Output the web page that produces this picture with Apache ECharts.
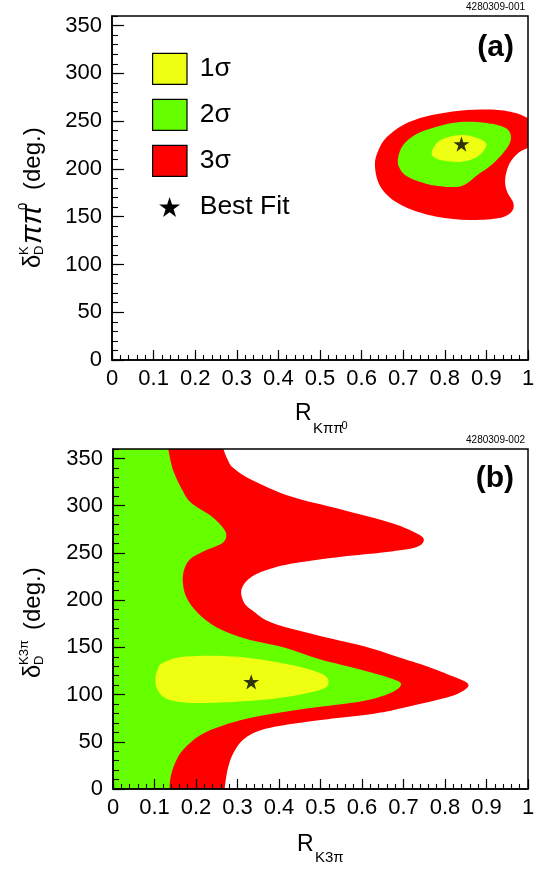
<!DOCTYPE html>
<html>
<head>
<meta charset="utf-8">
<script src="https://cdn.jsdelivr.net/npm/echarts@6/dist/echarts.min.js"></script>
<style>
  html, body { margin: 0; padding: 0; background: #fff; }
  #chart { width: 536px; height: 869px; }
</style>
</head>
<body>
<div id="chart"></div>
<script>
// ---- axis ranges ----
const rRange = [0, 1];
const deltaRange = [0, 360];
const rMajorStep = 0.1, rMinorStep = 0.02;
const deltaMajorStep = 50, deltaMinorStep = 10;

// ---- (a) K pi pi0 : contour boundaries, [R, delta(deg)] ----
const kpipi0_3sigma = [
  [1.0, 253], [0.97, 258.5], [0.92, 262], [0.84, 261], [0.757, 255], [0.70, 246],
  [0.66, 233], [0.64, 219], [0.632, 205], [0.64, 186], [0.665, 171], [0.71, 159],
  [0.78, 150], [0.86, 146.5], [0.93, 148.5], [0.96, 155], [0.965, 164], [0.95, 176],
  [0.945, 189], [0.955, 205], [0.975, 216], [1.0, 222]
];
const kpipi0_2sigma = [
  [0.688, 212], [0.70, 225], [0.73, 236], [0.78, 244], [0.837, 249], [0.90, 248],
  [0.945, 243], [0.959, 234], [0.95, 222], [0.915, 205], [0.88, 194], [0.85, 184],
  [0.82, 181], [0.76, 184], [0.71, 192], [0.69, 202]
];
const kpipi0_1sigma = [
  [0.769, 218], [0.789, 230], [0.838, 235.5], [0.88, 232], [0.90, 225], [0.879, 213],
  [0.84, 207.5], [0.80, 208.5], [0.775, 212]
];
const kpipi0_bestFit = [0.84, 226];

// ---- (b) K3pi : contour boundaries, [R, delta(deg)] ----
const k3pi_3sigma = [
  [0, 360], [0.266, 360], [0.275, 350], [0.29, 340], [0.336, 327], [0.427, 310],
  [0.55, 296], [0.673, 281.5], [0.73, 271], [0.749, 264], [0.73, 256], [0.66, 251],
  [0.55, 246], [0.45, 240], [0.386, 234], [0.335, 225], [0.31, 212], [0.315, 198],
  [0.336, 189], [0.386, 175.5], [0.509, 161], [0.607, 151], [0.70, 138], [0.756, 130],
  [0.82, 119], [0.856, 111], [0.84, 103], [0.797, 96], [0.70, 86], [0.632, 80],
  [0.468, 71.3], [0.37, 64], [0.322, 55], [0.298, 44], [0.283, 31], [0.274, 16],
  [0.269, 0], [0, 0]
];
const k3pi_2sigma = [
  [0, 360], [0.133, 360], [0.14, 345], [0.147, 335], [0.164, 319], [0.188, 303],
  [0.238, 288.5], [0.266, 276], [0.273, 268], [0.262, 260], [0.22, 252], [0.185, 243],
  [0.17, 230], [0.169, 216], [0.178, 202], [0.205, 186], [0.25, 171], [0.32, 159],
  [0.41, 150], [0.50, 137], [0.60, 126], [0.67, 117], [0.694, 111], [0.67, 102],
  [0.60, 93], [0.47, 85.5], [0.35, 77], [0.27, 68], [0.21, 57], [0.17, 42],
  [0.15, 28], [0.139, 13], [0.136, 0], [0, 0]
];
const k3pi_1sigma = [
  [0.102, 115.5], [0.108, 127], [0.122, 134], [0.18, 140.5], [0.303, 140], [0.427, 131.5],
  [0.50, 122.5], [0.519, 114], [0.50, 105], [0.386, 95.5], [0.221, 91], [0.139, 94],
  [0.11, 103]
];
const k3pi_bestFit = [0.333, 113.5];

// ---- legend ----
const legendLabels = ['1σ', '2σ', '3σ', 'Best Fit'];
const sigmaColors = ['#EEFF11', '#66FF00', '#FF0000'];

const FONT = "'Liberation Sans', Arial, Helvetica, sans-serif";

// five-pointed star outline centred on the origin
function starPoints(r) {
  const pts = [];
  for (let i = 0; i < 10; i++) {
    const rad = i % 2 ? r * 0.382 : r;
    const a = -Math.PI / 2 + i * Math.PI / 5;
    pts.push([rad * Math.cos(a), rad * Math.sin(a)]);
  }
  return pts;
}
function starPath(r) {
  return starPoints(r).map((p, i) => (i ? 'L' : 'M') + p[0].toFixed(3) + ' ' + p[1].toFixed(3)).join('') + 'Z';
}

// vertices lying on the frame stay sharp; all others are joined by a Catmull-Rom spline
function onFrame(p) {
  return p[0] <= rRange[0] || p[0] >= rRange[1] || p[1] <= deltaRange[0] || p[1] >= deltaRange[1];
}
function contourPath(pts, api) {
  const P = pts.map(p => api.coord(p));
  const sharp = pts.map(onFrame);
  const n = P.length;
  let start = sharp.indexOf(true);
  if (start < 0) start = 0;
  const f = v => v.toFixed(2);
  let d = 'M' + f(P[start][0]) + ' ' + f(P[start][1]);
  for (let k = 0; k < n; k++) {
    const i = (start + k) % n, j = (i + 1) % n;
    if (sharp[i] && sharp[j]) { d += 'L' + f(P[j][0]) + ' ' + f(P[j][1]); continue; }
    const p0 = sharp[i] ? P[i] : P[(i - 1 + n) % n];
    const p3 = sharp[j] ? P[j] : P[(j + 1) % n];
    const c1 = [P[i][0] + (P[j][0] - p0[0]) / 6, P[i][1] + (P[j][1] - p0[1]) / 6];
    const c2 = [P[j][0] - (p3[0] - P[i][0]) / 6, P[j][1] - (p3[1] - P[i][1]) / 6];
    d += 'C' + f(c1[0]) + ' ' + f(c1[1]) + ' ' + f(c2[0]) + ' ' + f(c2[1]) + ' ' + f(P[j][0]) + ' ' + f(P[j][1]);
  }
  return d + 'Z';
}

function regionSeries(name, pts, color, gi, z) {
  return {
    type: 'custom', name: name, xAxisIndex: gi * 2, yAxisIndex: gi * 2,
    data: pts, clip: true, silent: true, z: z,
    itemStyle: { color: color },
    renderItem: function (params, api) {
      if (params.dataIndex !== 0) return null;
      return { type: 'path', shape: { pathData: contourPath(pts, api) }, style: { fill: color } };
    }
  };
}

function bestFitSeries(pt, gi) {
  return {
    type: 'scatter', name: 'Best Fit', xAxisIndex: gi * 2, yAxisIndex: gi * 2,
    data: [pt], symbol: 'path://' + starPath(10), symbolSize: 16, symbolKeepAspect: true,
    itemStyle: { color: '#000' }, silent: true, z: 6
  };
}

const gridBoxes = [
  { left: 112, top: 16, width: 416, height: 344 },
  { left: 113, top: 449, width: 415, height: 340 }
];

const grids = gridBoxes.map(b => Object.assign({
  show: true, borderColor: '#000', borderWidth: 1.5, backgroundColor: 'transparent',
  outerBoundsMode: 'none', containLabel: false, z: 8
}, b));

const xAxes = [], yAxes = [];
gridBoxes.forEach((b, gi) => {
  xAxes.push({
    gridIndex: gi, type: 'value', min: rRange[0], max: rRange[1], interval: rMajorStep,
    position: 'bottom', z: 10,
    axisLine: { show: true, onZero: false, lineStyle: { color: '#000', width: 1.5 } },
    axisTick: { show: true, inside: true, length: 10, lineStyle: { color: '#000', width: 1.2 } },
    axisLabel: { show: true, margin: 8, fontSize: 22, color: '#000', fontFamily: FONT, hideOverlap: false },
    splitLine: { show: false }
  });
  xAxes.push({
    gridIndex: gi, type: 'value', min: rRange[0], max: rRange[1], interval: rMinorStep,
    position: 'bottom', z: 10,
    axisLine: { show: false },
    axisTick: { show: true, inside: true, length: 5, lineStyle: { color: '#000', width: 1.1 } },
    axisLabel: { show: false }, splitLine: { show: false }
  });
  yAxes.push({
    gridIndex: gi, type: 'value', min: deltaRange[0], max: deltaRange[1], interval: deltaMajorStep,
    position: 'left', z: 10,
    axisLine: { show: true, onZero: false, lineStyle: { color: '#000', width: 1.5 } },
    axisTick: { show: true, inside: true, length: 12, lineStyle: { color: '#000', width: 1.2 } },
    axisLabel: { show: true, margin: 10, fontSize: 22, color: '#000', fontFamily: FONT,
                 showMaxLabel: false, hideOverlap: false },
    splitLine: { show: false }
  });
  yAxes.push({
    gridIndex: gi, type: 'value', min: deltaRange[0], max: deltaRange[1], interval: deltaMinorStep,
    position: 'left', z: 10,
    axisLine: { show: false },
    axisTick: { show: true, inside: true, length: 6, lineStyle: { color: '#000', width: 1.1 } },
    axisLabel: { show: false }, splitLine: { show: false }
  });
});

const series = [
  regionSeries('3σ', kpipi0_3sigma, sigmaColors[2], 0, 2),
  regionSeries('2σ', kpipi0_2sigma, sigmaColors[1], 0, 3),
  regionSeries('1σ', kpipi0_1sigma, sigmaColors[0], 0, 4),
  bestFitSeries(kpipi0_bestFit, 0),
  regionSeries('3σ', k3pi_3sigma, sigmaColors[2], 1, 2),
  regionSeries('2σ', k3pi_2sigma, sigmaColors[1], 1, 3),
  regionSeries('1σ', k3pi_1sigma, sigmaColors[0], 1, 4),
  bestFitSeries(k3pi_bestFit, 1)
];

// ---- text and legend graphics ----
function txt(x, y, s, size, style) {
  return {
    type: 'text', x: x, y: y, z: 20,
    style: Object.assign({ text: s, fontSize: size, fontFamily: FONT, fill: '#000',
                           align: 'left', verticalAlign: 'middle' }, style || {})
  };
}

const graphics = [];

// figure ids
graphics.push(txt(525, 7.5, '4280309-001', 10, { align: 'right' }));
graphics.push(txt(525, 440, '4280309-002', 10, { align: 'right' }));

// panel tags
graphics.push(txt(514, 47.5, '(a)', 30, { align: 'right', fontWeight: 'bold' }));
graphics.push(txt(514, 478.5, '(b)', 30, { align: 'right', fontWeight: 'bold' }));

// legend (panel a)
const legendTop = [53.3, 99.3, 145.3];
legendLabels.forEach((lab, i) => {
  const cy = 69 + i * 46;
  if (i < 3) {
    graphics.push({ type: 'rect', z: 20, shape: { x: 152.6, y: legendTop[i], width: 34.4, height: 31 },
                    style: { fill: sigmaColors[i], stroke: '#000', lineWidth: 1.2 } });
  } else {
    graphics.push({ type: 'polygon', z: 20, x: 169.6, y: cy + 1, shape: { points: starPoints(11) },
                    style: { fill: '#000' } });
  }
  graphics.push(txt(199.7, cy, lab, 26.5));
});

// x-axis titles
graphics.push(txt(295, 414, 'R', 23));
graphics.push(txt(313, 428.5, 'Kππ', 15));
graphics.push(txt(341.5, 426, '0', 11));
graphics.push(txt(297, 845, 'R', 23));
graphics.push(txt(315, 857.5, 'K3π', 15));

// y-axis titles, read bottom-to-top
function yTitle(x, y, parts) {
  return { type: 'group', x: x, y: y, rotation: Math.PI / 2, z: 20,
           children: parts.map(p => ({
             type: 'text', x: p[0], y: p[1], z: 20,
             style: { text: p[2], fontSize: p[3], fontFamily: FONT, fill: '#000',
                      fontStyle: p[4] || 'normal', align: 'left', verticalAlign: 'middle' } })) };
}
graphics.push(yTitle(33, 268, [
  [0, 0, 'δ', 24], [13, -9, 'K', 13], [13, 6, 'D', 13],
  [24, 0, 'ππ', 29, 'italic'], [58, -10, '0', 13], [78, 0, '(deg.)', 24]
]));
graphics.push(yTitle(33, 678, [
  [0, 0, 'δ', 24], [13, -9, 'K3π', 13], [13, 6, 'D', 13], [48, 0, '(deg.)', 24]
]));

const chart = echarts.init(document.getElementById('chart'), null, { renderer: 'canvas' });
chart.setOption({
  backgroundColor: '#fff',
  animation: false,
  grid: grids,
  xAxis: xAxes,
  yAxis: yAxes,
  series: series,
  graphic: { elements: graphics }
});
</script>
</body>
</html>
